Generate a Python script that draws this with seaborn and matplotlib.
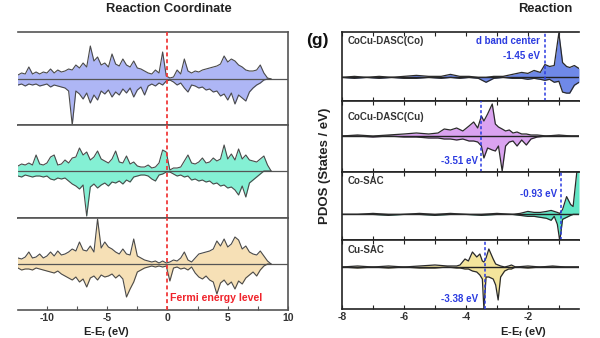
import numpy as np
import matplotlib
matplotlib.use('Agg')
import matplotlib.pyplot as plt
from matplotlib.ticker import FixedLocator
import seaborn as sns
import pandas as pd

# ---------------- data (DOS in arbitrary units) ----------------
# left panels: energy grid -12.7 ... 8.6 eV (72 samples)
L1_up = [5,4,6,5,12,5,7,5,7,6,10,6,9,7,8,10,9,14,11,16,12,33,18,22,14,16,12,25,15,13,20,14,12,18,11,10,8,6,5,9,6,27,3,1,2,9,5,20,8,6,8,7,9,10,11,12,13,15,23,17,20,18,14,12,9,8,8,9,14,6,1,0]
L1_dn = [-5,-6,-5,-7,-5,-6,-5,-7,-6,-5,-8,-6,-7,-8,-9,-12,-46,-12,-15,-20,-14,-24,-16,-21,-12,-15,-11,-18,-13,-16,-10,-14,-9,-18,-11,-8,-16,-7,-5,-7,-4,-6,-2,-1,-3,-6,-4,-9,-13,-6,-7,-9,-8,-11,-10,-13,-12,-17,-15,-21,-14,-25,-16,-19,-22,-13,-9,-6,-4,-1,0,0]
L2_up = [6,5,7,6,8,6,16,7,6,8,14,16,6,7,11,8,13,14,23,16,19,11,14,20,12,10,8,12,20,9,8,15,7,9,5,4,4,6,3,4,8,21,19,1,3,3,4,10,16,8,7,9,13,8,9,13,10,12,26,12,17,11,22,12,16,11,10,9,12,15,6,0]
L2_dn = [-5,-5,-6,-4,-5,-6,-5,-5,-6,-5,-8,-9,-7,-8,-7,-10,-13,-15,-18,-14,-45,-16,-13,-17,-14,-12,-15,-11,-12,-10,-13,-9,-11,-6,-5,-4,-4,-5,-8,-10,-4,-3,-1,-1,-3,-5,-4,-6,-5,-9,-8,-10,-9,-11,-10,-13,-12,-15,-14,-17,-16,-19,-24,-15,-26,-12,-9,-6,-3,0,0,0]
L3_up = [6,6,5,7,12,6,7,10,6,8,12,8,13,9,10,12,15,13,22,14,13,18,12,45,16,22,17,15,12,10,15,10,9,25,8,6,4,3,2,3,1,3,1,2,4,3,6,12,4,2,6,10,11,12,13,15,23,18,25,17,20,27,24,15,18,12,10,9,13,8,3,0]
L3_dn = [-5,-4,-6,-5,-5,-6,-4,-5,-6,-7,-8,-9,-7,-10,-12,-14,-16,-13,-18,-15,-23,-14,-12,-16,-11,-13,-12,-10,-14,-11,-15,-33,-25,-18,-8,-6,-4,-3,-2,-3,-2,-3,-2,-17,-4,-3,-5,-4,-6,-3,-9,-13,-15,-12,-16,-18,-30,-19,-16,-21,-18,-25,-17,-20,-14,-11,-8,-12,-6,-2,0,0]

# right panels (d-band PDOS)
R1_x = [-8.0,-7.6,-7.2,-6.8,-6.4,-6.0,-5.6,-5.2,-4.8,-4.5,-4.2,-3.9,-3.6,-3.35,-3.1,-2.8,-2.5,-2.2,-2.0,-1.8,-1.6,-1.45,-1.3,-1.15,-1.0,-0.88,-0.75,-0.65,-0.5,-0.35]
R1_up = [0,1,0,1,0,1,2,1,1,3,1,1,0,0,1,1,3,5,4,7,5,13,11,12,45,15,11,10,12,9]
R1_dn = [0,-1,0,-1,0,-1,-1,0,-1,0,-1,0,-1,-5,-1,0,-1,-1,-2,-1,-2,-3,-2,-5,-4,-15,-16,-16,-8,-5]
R2_x = [-8.0,-7.5,-7.0,-6.5,-6.0,-5.6,-5.2,-4.9,-4.7,-4.5,-4.3,-4.1,-3.9,-3.75,-3.62,-3.5,-3.42,-3.3,-3.15,-3.05,-2.95,-2.83,-2.72,-2.6,-2.48,-2.35,-2.2,-2.05,-1.9,-1.7,-1.4,-1.0,-0.6,-0.35]
R2_up = [0,1,0,1,2,3,2,3,7,6,8,5,10,14,8,20,15,22,32,12,9,7,5,6,3,4,2,2,1,1,0,1,0,0]
R2_dn = [0,0,-1,0,-1,-1,-2,-2,-3,-3,-4,-3,-5,-5,-6,-10,-22,-12,-14,-15,-10,-35,-10,-6,-5,-10,-4,-9,-3,-1,0,0,0,0]
R3_x = [-8.0,-7.5,-7.0,-6.5,-6.0,-5.5,-5.0,-4.5,-4.0,-3.5,-3.0,-2.5,-2.25,-2.0,-1.8,-1.6,-1.4,-1.25,-1.15,-1.05,-0.97,-0.88,-0.75,-0.62,-0.54,-0.42,-0.35]
R3_up = [0,0,1,0,0,1,0,1,0,0,1,0,1,3,2,2,3,4,3,2,1,5,18,10,8,43,43]
R3_dn = [0,0,0,-1,0,0,-1,0,0,-1,0,0,-1,-2,-2,-3,-4,-6,-2,-10,-27,-5,-3,-1,0,0,0]
R4_x = [-8.0,-7.5,-7.0,-6.5,-6.0,-5.5,-5.0,-4.6,-4.3,-4.19,-4.03,-3.92,-3.79,-3.65,-3.55,-3.47,-3.42,-3.35,-3.26,-3.12,-3.04,-2.96,-2.88,-2.75,-2.62,-2.53,-2.4,-2.0,-1.6,-1.2,-0.8,-0.35]
R4_up = [0,1,0,1,0,1,2,1,1,2,8,6,15,10,13,6,5,9,18,8,3,2,1,0,1,2,0,1,0,1,0,0]
R4_dn = [0,-1,0,-1,0,-1,-1,0,-1,-1,-2,-2,-4,-5,-8,-12,-42,-10,-10,-12,-18,-33,-10,-4,-2,-2,0,-1,0,0,0,0]

right_names = ['CoCu-DASC(Co)', 'CoCu-DASC(Cu)', 'Co-SAC', 'Cu-SAC']
d_centers = [-1.45, -3.51, -0.93, -3.38]
d_labels = ['-1.45 eV', '-3.51 eV', '-0.93 eV', '-3.38 eV']
left_ticks = [-10, -5, 0, 5, 10]
right_ticks = [-8, -6, -4, -2]

# ---------------- style ----------------
sns.set_theme(style='white')
plt.rcParams['font.family'] = ['Liberation Sans', 'DejaVu Sans']
plt.rcParams['font.weight'] = 'bold'
plt.rcParams['mathtext.fontset'] = 'custom'
plt.rcParams['mathtext.rm'] = 'Liberation Sans:bold'
plt.rcParams['mathtext.it'] = 'Liberation Sans:bold'
plt.rcParams['mathtext.bf'] = 'Liberation Sans:bold'

W, H = 600, 338
fig = plt.figure(figsize=(6, 3.38), dpi=100)
fig.patch.set_facecolor('white')

def ax_px(x0, y0, x1, y1):
    a = fig.add_axes([x0 / W, 1 - y1 / H, (x1 - x0) / W, (y1 - y0) / H])
    a.set_facecolor('white')
    return a

def draw(ax, x, up, dn, fill, edge, lw):
    x = np.asarray(x, float)
    ax.fill_between(x, up, 0, color=fill, lw=0)
    ax.fill_between(x, dn, 0, color=fill, lw=0)
    df = pd.DataFrame({'E': np.r_[x, x], 'D': np.r_[up, dn],
                       's': ['up'] * len(x) + ['dn'] * len(x)})
    sns.lineplot(data=df, x='E', y='D', units='s', estimator=None,
                 color=edge, lw=lw, ax=ax, legend=False)
    ax.set_xlabel('')
    ax.set_ylabel('')
    ax.set_yticks([])

# ---------------- left panel ----------------
E = np.linspace(-12.7, 8.6, len(L1_up))
left_sets = [(L1_up, L1_dn, '#aeb6f5', (32, 125), (-46, 47)),
             (L2_up, L2_dn, '#84f0d4', (125, 218), (-47, 46)),
             (L3_up, L3_dn, '#f6e0b6', (218, 310), (-46, 46))]
for k, (up, dn, col, (y0, y1), yl) in enumerate(left_sets):
    ax = ax_px(18, y0, 288, y1)
    draw(ax, E, up, dn, col, '#4a4a4a', 0.8)
    ax.axhline(0, color='#555555', lw=0.9, zorder=1)
    ax.axvline(0, color='#f03a3a', lw=1.3, ls=(0, (2.2, 1.6)), zorder=5)
    ax.set_xlim(-12.4, 10)
    ax.set_ylim(*yl)
    ax.spines['left'].set_visible(False)
    for s in ['top', 'bottom', 'right']:
        ax.spines[s].set_color('#555555')
        ax.spines[s].set_linewidth(1.2)
    if k < 2:
        ax.set_xticks([])
    else:
        ax.xaxis.set_major_locator(FixedLocator(left_ticks))
        ax.xaxis.set_minor_locator(FixedLocator([-7.5, -2.5, 2.5, 7.5]))
        ax.tick_params(axis='x', which='both', direction='in', bottom=True, top=False,
                       length=3, width=0.8, color='#555555', labelsize=7.5, pad=2.5,
                       labelcolor='#333333')
        ax.set_xticklabels([str(t) for t in left_ticks], fontweight='bold')
        ax.text(0.2, -34, 'Fermi energy level', color='#f0232b', fontsize=7.6,
                fontweight='bold', va='center', ha='left')

# ---------------- right panel ----------------
right_sets = [(R1_x, R1_up, R1_dn, '#6f89e8', (32, 101), (-24, 46)),
              (R2_x, R2_up, R2_dn, '#daa3f0', (101, 172), (-36, 35)),
              (R3_x, R3_up, R3_dn, '#60e6c5', (172, 240), (-26, 43)),
              (R4_x, R4_up, R4_dn, '#f4e59c', (240, 309), (-42, 27))]
name_y = [41.5, 117, 181.5, 250]
lab_pos = [(540, 56), (478, 160.5), (557, 194), (478, 299)]
for k, (x, up, dn, col, (y0, y1), yl) in enumerate(right_sets):
    ax = ax_px(342, y0, 579, y1)
    draw(ax, x, up, dn, col, '#2a2a2a', 0.9)
    ax.axhline(0, color='#222222', lw=1.0, zorder=1)
    ax.axvline(d_centers[k], color='#2b3be0', lw=1.1, ls=(0, (2, 1.5)), zorder=5)
    ax.set_xlim(-8, -0.35)
    ax.set_ylim(*yl)
    ax.spines['right'].set_visible(False)
    for s in ['top', 'bottom', 'left']:
        ax.spines[s].set_color('#222222')
        ax.spines[s].set_linewidth(1.2)
    ax.xaxis.set_major_locator(FixedLocator(right_ticks))
    ax.xaxis.set_minor_locator(FixedLocator([-7, -5, -3, -1]))
    ax.tick_params(axis='x', which='both', direction='in', bottom=True, top=True,
                   length=3, width=0.8, color='#222222', labelsize=7.5, pad=2.5,
                   labelcolor='#333333', labelbottom=(k == 3))
    if k == 3:
        ax.set_xticklabels([str(t) for t in right_ticks], fontweight='bold')
    fig.text(348 / W, 1 - name_y[k] / H, right_names[k], fontsize=7, fontweight='bold',
             color='#333333', ha='left', va='center')
    lx, ly = lab_pos[k]
    fig.text(lx / W, 1 - ly / H, d_labels[k], fontsize=7, fontweight='bold',
             color='#2b3be0', ha='right', va='center')
fig.text(540 / W, 1 - 41.5 / H, 'd band center', fontsize=7, fontweight='bold',
         color='#2b3be0', ha='right', va='center')

# ---------------- figure texts ----------------
fig.text(169 / W, 1 - 9 / H, 'Reaction Coordinate', fontsize=9.3, fontweight='bold',
         color='#222222', ha='center', va='center')
fig.text(518 / W, 1 - 9 / H, 'Reaction', fontsize=9.3, fontweight='bold',
         color='#222222', ha='left', va='center')
fig.text(306 / W, 1 - 40 / H, '(g)', fontsize=12.5, fontweight='bold',
         color='#111111', ha='left', va='center')
fig.text(325 / W, 1 - 166 / H, 'PDOS (States / eV)', fontsize=9.5, fontweight='bold',
         color='#222222', ha='center', va='center', rotation=90)
fig.text(107 / W, 1 - 335 / H, 'E-E$_f$ (eV)', fontsize=8, fontweight='bold',
         color='#222222', ha='center', va='baseline')
fig.text(500 / W, 1 - 335 / H, 'E-E$_f$ (eV)', fontsize=8, fontweight='bold',
         color='#222222', ha='left', va='baseline')

fig.savefig('out.png', dpi=100, facecolor='white')
